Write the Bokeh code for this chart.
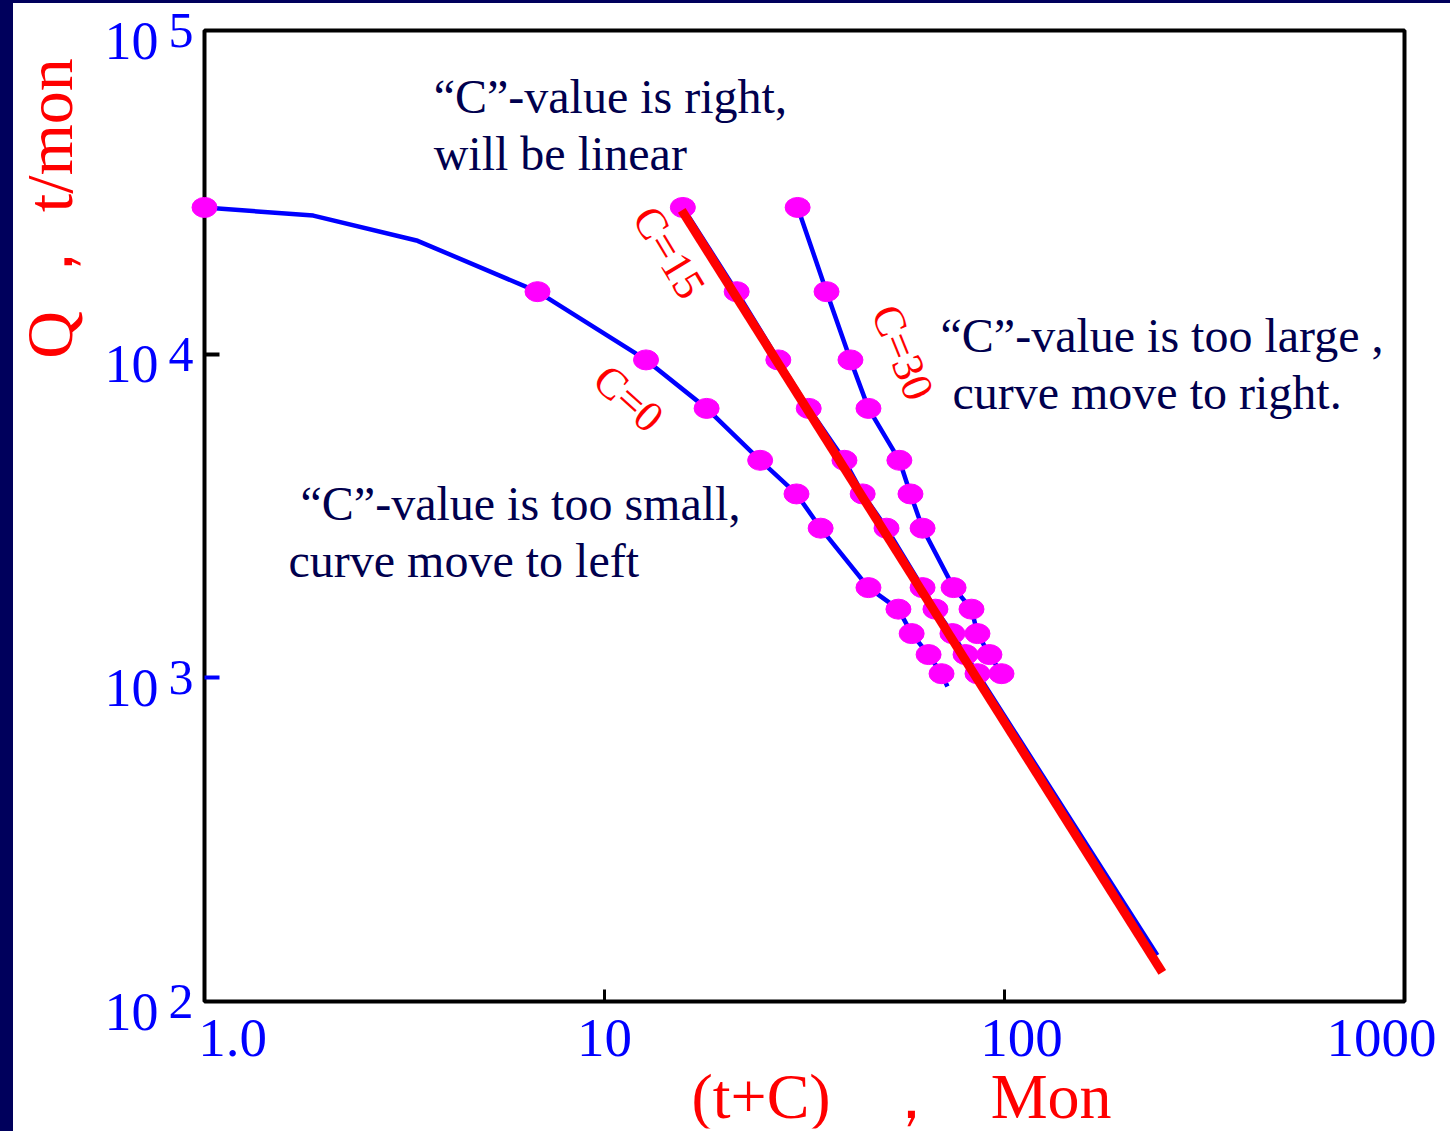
import numpy as np
from bokeh.plotting import figure
from bokeh.models import Label, FixedTicker, Range1d, Div, LogAxis, BoxAnnotation
from bokeh.layouts import column, row
from bokeh.embed import file_html
from bokeh.resources import INLINE

# ---------------- data ----------------
q_obs = [28400, 15600, 9600, 6800, 4700, 3700, 2900, 1900, 1630, 1370, 1180, 1030]
t_c0 = [1.0, 6.8, 12.7, 18.0, 24.5, 30.2, 34.7, 45.7, 54.3, 58.6, 64.6, 69.6]
t_c15 = [15.7, 21.4, 27.2, 32.4, 39.8, 44.2, 50.7, 62.4, 67.2, 74.1, 79.9, 85.6]
t_c30 = [30.4, 35.9, 41.2, 45.7, 54.6, 58.2, 62.4, 74.6, 82.7, 85.6, 91.7, 98.3]

# blue curves (vertices incl. points without markers)
c0_line_x = [1.0, 1.87, 3.41, 6.8, 12.7, 18.0, 24.5, 30.2, 34.7, 45.7, 54.3, 58.6, 64.6, 69.6, 72.0]
c0_line_q = [28400, 26800, 22400, 15600, 9600, 6800, 4700, 3700, 2900, 1900, 1630, 1370, 1180, 1030, 940]
c15_line_x = [15.7, 21.4, 27.2, 32.4, 39.8, 44.2, 50.7, 62.4, 67.2, 74.1, 79.9, 85.6, 241.0]
c15_line_q = [28400, 15600, 9600, 6800, 4700, 3700, 2900, 1900, 1630, 1370, 1180, 1030, 139]
c30_line_x = [30.4, 35.9, 41.2, 45.7, 54.6, 58.2, 62.4, 74.6, 82.7, 85.6, 91.7, 98.3, 101.8]
c30_line_q = [28400, 15600, 9600, 6800, 4700, 3700, 2900, 1900, 1630, 1370, 1180, 1030, 975]

# straight line for C = 15
fit_x = [15.6, 248.0]
fit_q = [27800, 123]

# axes
x_lim = [1, 1000]
y_lim = [1e2, 1e5]
x_ticks = [1, 10, 100, 1000]
x_tick_labels = ["1.0", "10", "100", "1000"]
y_ticks = [1e2, 1e3, 1e4, 1e5]
y_tick_exps = ["2", "3", "4", "5"]

# ---------------- layout / styles ----------------
NAVY = "#00005c"
TEXT_NAVY = "#00004e"
BLUE = "#0000ff"
RED = "#ff0000"
PINK = "#ff00ff"
SERIF = "Liberation Serif"
NB = "\u00a0"
x_label_nudge = [28, 0, 17, -23]

FIG_W, FIG_H = 1437, 1128          # figure size (page minus navy strips)
OFF_X, OFF_Y = 13, 3               # page position of the figure
BL, BB = 3, 3                      # small borders holding the tick-only axes
BOX_L, BOX_T = 204, 30             # page position of x=1 / y=1e5
DEC_X, DEC_Y = 400.0, 323.67       # pixels per decade

fl, fr = OFF_X + BL, OFF_X + FIG_W   # frame edges on the page
ft, fb = OFF_Y, OFF_Y + FIG_H - BB
xr = Range1d(10 ** ((fl - BOX_L) / DEC_X), 10 ** ((fr - BOX_L) / DEC_X))
yr = Range1d(10 ** (5 - (fb - BOX_T) / DEC_Y), 10 ** (5 + (BOX_T - ft) / DEC_Y))

p = figure(width=FIG_W, height=FIG_H,
           x_axis_type="log", y_axis_type="log",
           x_range=xr, y_range=yr,
           output_backend="svg", toolbar_location=None,
           min_border_left=BL, min_border_right=0,
           min_border_top=0, min_border_bottom=BB)
p.outline_line_color = None
p.grid.visible = False
p.background_fill_color = "white"
p.border_fill_color = "white"

# plot box
box = BoxAnnotation(left=x_lim[0], right=x_lim[1], bottom=y_lim[0], top=y_lim[1],
                    fill_color=None, fill_alpha=0, line_color="black", line_alpha=1.0,
                    line_width=4, level="underlay")
p.add_layout(box)


def tick_axis(ax, ticks, color, tick_len, width):
    ax.ticker = FixedTicker(ticks=ticks)
    ax.axis_line_color = None
    ax.major_tick_in = tick_len
    ax.major_tick_out = 0
    ax.major_tick_line_width = width
    ax.major_tick_line_color = color
    ax.minor_tick_line_color = None
    ax.major_label_text_font_size = "1px"
    ax.major_label_text_alpha = 0
    ax.major_label_standoff = 0


xa = p.xaxis[0]
tick_axis(xa, [10, 100], "black", 12, 3)
xa.fixed_location = y_lim[0]

ya = p.yaxis[0]
tick_axis(ya, [1e4], "black", 15, 4)
ya.fixed_location = x_lim[0]

ya2 = LogAxis()
tick_axis(ya2, [1e3], BLUE, 15, 4)
ya2.fixed_location = x_lim[0]
p.add_layout(ya2, "left")

# ---------------- glyphs ----------------
for lx, lq in [(c0_line_x, c0_line_q), (c15_line_x, c15_line_q), (c30_line_x, c30_line_q)]:
    p.line(lx, lq, line_color=BLUE, line_width=4.5)

for tx in [t_c0, t_c15, t_c30]:
    p.ellipse(x=tx, y=q_obs, width=25, height=20,
              width_units="screen", height_units="screen",
              fill_color=PINK, line_color=PINK)

p.line(fit_x, fit_q, line_color=RED, line_width=9)

# ---------------- tick labels ----------------
for v, s, nd in zip(x_ticks, x_tick_labels, x_label_nudge):
    p.add_layout(Label(x=v, y=y_lim[0], text=s, x_offset=nd, y_offset=-36,
                       text_align="center", text_baseline="middle",
                       text_font=SERIF, text_font_size="55px", text_color=BLUE))
for v, e in zip(y_ticks, y_tick_exps):
    p.add_layout(Label(x=x_lim[0], y=v, text="10", x_offset=-46, y_offset=-10,
                       text_align="right", text_baseline="middle",
                       text_font=SERIF, text_font_size="54px", text_color=BLUE))
    p.add_layout(Label(x=x_lim[0], y=v, text=e, x_offset=-36, y_offset=0,
                       text_align="left", text_baseline="middle",
                       text_font=SERIF, text_font_size="50px", text_color=BLUE))

# ---------------- axis titles ----------------
x_title = "(t+C)" + NB * 3 + "，" + NB * 3 + "Mon"
p.add_layout(Label(x=x_lim[0], y=y_lim[0], text=x_title, x_offset=697, y_offset=-95,
                   text_align="center", text_baseline="middle",
                   text_font=SERIF, text_font_size="64px", text_color=RED))
p.add_layout(Label(x=x_lim[0], y=y_lim[1], text="Q ， t/mon", x_offset=-155, y_offset=-178,
                   angle=90, angle_units="deg",
                   text_align="center", text_baseline="middle",
                   text_font=SERIF, text_font_size="66px", text_color=RED))

# ---------------- annotations ----------------
notes = [
    (3.74, 62500, "“C”-value is right,"),
    (3.74, 41700, "will be linear"),
    (69.2, 11420, "“C”-value is too large ,"),
    (74.1, 7615, "curve move to right."),
    (1.738, 3458, "“C”-value is too small,"),
    (1.622, 2305, "curve move to left"),
]
for nx, ny, s in notes:
    p.add_layout(Label(x=nx, y=ny, text=s, text_align="left", text_baseline="alphabetic",
                       text_font=SERIF, text_font_size="48px", text_color=TEXT_NAVY))

c_labels = [
    (14.5, 20620, "C=15", -59),
    (11.48, 7298, "C=0", -42),
    (55.6, 10120, "C=30", -68),
]
for cx, cy, s, ang in c_labels:
    p.add_layout(Label(x=cx, y=cy, text=s, angle=ang, angle_units="deg",
                       text_align="center", text_baseline="middle",
                       text_font=SERIF, text_font_size="44px", text_color=RED))

top_strip = Div(width=1450, height=OFF_Y, margin=0, styles={"background-color": NAVY})
left_strip = Div(width=OFF_X, height=FIG_H, margin=0, styles={"background-color": NAVY})
layout = column(top_strip, row(left_strip, p, spacing=0), spacing=0)

open("out.html", "w").write(file_html(layout, INLINE))
